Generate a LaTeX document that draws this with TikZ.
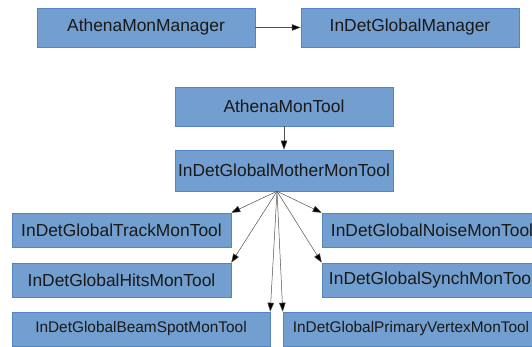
\documentclass[tikz,border=0pt]{standalone}
\usepackage{fontspec}
\setmainfont{Liberation Sans}
\usetikzlibrary{arrows.meta}
\definecolor{boxfill}{HTML}{729FCF}
\definecolor{boxline}{HTML}{5584C2}
\definecolor{arrowline}{HTML}{505050}
\begin{document}
\begin{tikzpicture}[x=1pt,y=-1pt,
  box/.style={draw=boxline, line width=0.5pt, fill=boxfill, inner sep=0pt,
    font=\fontsize{17.4}{20}\selectfont, text=black!90},
  smallbox/.style={box, font=\fontsize{15.4}{18}\selectfont},
  conn/.style={draw=arrowline, line width=0.5pt, -{Triangle[length=9pt,width=6.5pt,fill=black]}}]
\useasboundingbox (0,0) rectangle (532,347);
\clip (0,0) rectangle (532,347);
\node[box, minimum width=218pt, minimum height=39pt] (amm) at (146,27.5) {AthenaMonManager};
\node[box, minimum width=218pt, minimum height=39pt] (igm) at (410,27.5) {InDetGlobalManager};
\node[box, minimum width=218pt, minimum height=39pt] (amt) at (284,106.5) {AthenaMonTool};
\node[box, minimum width=218pt, minimum height=41pt] (mother) at (284,170.5) {InDetGlobalMotherMonTool};
\node[box, minimum width=219pt, minimum height=34pt] (track) at (121.5,230) {InDetGlobalTrackMonTool};
\node[box, minimum width=219pt, minimum height=34pt] (hits) at (121.5,280) {InDetGlobalHitsMonTool};
\node[smallbox, minimum width=258pt, minimum height=34pt] (beam) at (141,329) {InDetGlobalBeamSpotMonTool};
\node[box, minimum width=220pt, minimum height=34pt] (noise) at (432,230) {InDetGlobalNoiseMonTool};
\node[box, minimum width=220pt, minimum height=34pt] (synch) at (432,280) {InDetGlobalSynchMonTool};
\node[smallbox, minimum width=256pt, minimum height=34pt] (pv) at (411,329) {InDetGlobalPrimaryVertexMonTool};
\coordinate (hub) at ([xshift=-7pt]mother.south);
\draw[conn] (amm.east) -- (igm.west);
\draw[conn] (amt.south) -- (mother.north);
\draw[conn] (hub) -- (track.north east);
\draw[conn] (hub) -- (hits.north east);
\draw[conn] (hub) -- (noise.north west);
\draw[conn] (hub) -- (synch.north west);
\draw[conn] (hub) -- (beam.north east);
\draw[conn] (hub) -- (pv.north west);
\end{tikzpicture}
\end{document}
